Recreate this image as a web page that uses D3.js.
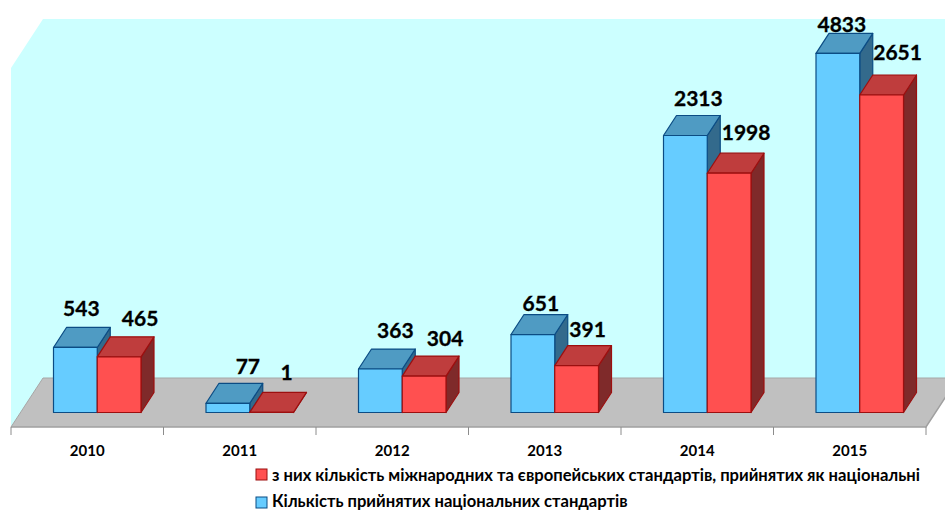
<!DOCTYPE html>
<html>
<head>
<meta charset="utf-8">
<script src="https://cdn.jsdelivr.net/npm/d3@7"></script>
<style>
  html, body { margin: 0; padding: 0; background: #fff; }
  svg { display: block; }
  text { font-family: Lato, "Open Sans", sans-serif; font-weight: 700; fill: #000; }
</style>
</head>
<body>
<svg id="chart" width="945" height="511"></svg>
<script>
// Data
const years = ["2010", "2011", "2012", "2013", "2014", "2015"];
const seriesKeys = ["national", "international"];
const nationalValues = [543, 77, 363, 651, 2313, 4833];
const internationalValues = [465, 1, 304, 391, 1998, 2651];
// The 2015 blue bar in the original is shorter than its label says (about 2998 on the same scale)
const nationalDrawn = [543, 77, 363, 651, 2313, 2998];
const internationalDrawn = [465, 1, 304, 391, 1998, 2651];
const legendLabels = [
  "з них кількість міжнародних та європейських стандартів, прийнятих як національні",
  "Кількість прийнятих національних стандартів",
];

// Label nudges from the top-middle of each bar front, by series then year
const labelNudge = {
  national: [[6, -31], [20, -29], [15, -31], [8, -24], [13, -29], [4, -21]],
  international: [[21, -31], [15, -32], [21, -30], [11, -29], [17, -33], [16, -35]],
};

const svg = d3.select("#chart");

// Scene frame
const left = 11, right = 926, floorFront = 427, floorBack = 378;
const wallDx = 32, wallDy = -49;
const wallTop = 19, wallLeftTop = 68;
const barBase = 412.5;
const depthX = 13, depthY = -20;

const colors = {
  national: { front: "#66ccff", top: "#4f9bc3", side: "#336a8c", stroke: "#0b4c84" },
  international: { front: "#ff5050", top: "#bf3d3d", side: "#7f2a2a", stroke: "#9c0f0f" },
};

// Scales
const x0 = d3.scaleBand().domain(years).range([left, right]);
const x1 = d3.scaleBand().domain(seriesKeys).range([42.5, 130]);
const y = d3.scaleLinear().domain([0, 3000]).range([barBase, 53.2]);

const rows = years.flatMap((year, i) => [
  { year, key: "national", value: nationalValues[i], drawn: nationalDrawn[i], i },
  { year, key: "international", value: internationalValues[i], drawn: internationalDrawn[i], i },
]);

const line = d3.line();

// Wall
svg.append("path")
  .attr("d", line([[left, floorFront], [left, wallLeftTop], [left + wallDx, wallTop], [945, wallTop], [945, floorBack], [left + wallDx, floorBack]]) + "Z")
  .attr("fill", "#ccffff");

// Floor
svg.append("path")
  .attr("d", line([[left, floorFront], [left + wallDx, floorBack], [right + wallDx, floorBack], [right, floorFront]]) + "Z")
  .attr("fill", "#c0c0c0");
svg.append("path")
  .attr("d", line([[left, floorFront], [left + wallDx, floorBack], [right + wallDx, floorBack]]))
  .attr("fill", "none").attr("stroke", "#a6a6a6").attr("stroke-width", 1);
svg.append("path")
  .attr("d", line([[right + wallDx, floorBack], [right, floorFront], [left, floorFront]]))
  .attr("fill", "none").attr("stroke", "#a0a0a0").attr("stroke-width", 1.5);

// Axis: labels from d3, tick marks on the band edges
const axis = svg.append("g")
  .attr("transform", `translate(0,${floorFront})`)
  .call(d3.axisBottom(x0).tickSize(0).tickPadding(18));
axis.select(".domain").remove();
axis.selectAll("text").attr("font-size", 15).attr("font-family", "Lato, sans-serif").attr("font-weight", 700);
axis.selectAll(".edge")
  .data(years.map((d) => x0(d)).concat(right))
  .enter()
  .append("line")
  .attr("class", "edge")
  .attr("x1", (d) => d).attr("x2", (d) => d)
  .attr("y1", 0).attr("y2", 8)
  .attr("stroke", "#8c8c8c");

// Bars
const bars = svg.append("g")
  .selectAll("g")
  .data(rows)
  .enter()
  .append("g")
  .attr("stroke-width", 1.2)
  .attr("stroke-linejoin", "round")
  .each(function (d) {
    const g = d3.select(this);
    const c = colors[d.key];
    const xa = x0(d.year) + x1(d.key);
    const xb = xa + x1.bandwidth();
    const yt = y(d.drawn);
    g.attr("stroke", c.stroke);
    g.append("path").attr("fill", c.side)
      .attr("d", line([[xb, yt], [xb + depthX, yt + depthY], [xb + depthX, barBase + depthY], [xb, barBase]]) + "Z");
    g.append("path").attr("fill", c.top)
      .attr("d", line([[xa, yt], [xa + depthX, yt + depthY], [xb + depthX, yt + depthY], [xb, yt]]) + "Z");
    g.append("rect").attr("fill", c.front)
      .attr("x", xa).attr("y", yt)
      .attr("width", xb - xa).attr("height", barBase - yt);
  });

// Value labels
svg.append("g")
  .selectAll("text")
  .data(rows)
  .enter()
  .append("text")
  .attr("text-anchor", "middle")
  .attr("font-size", 21)
  .attr("stroke", "#000")
  .attr("stroke-width", 0.3)
  .attr("x", (d) => x0(d.year) + x1(d.key) + x1.bandwidth() / 2 + labelNudge[d.key][d.i][0])
  .attr("y", (d) => y(d.drawn) + labelNudge[d.key][d.i][1])
  .text((d) => d.value);

// Legend
const legend = svg.append("g")
  .selectAll("g")
  .data(legendLabels)
  .enter()
  .append("g")
  .attr("transform", (d, i) => `translate(256,${469 + i * 28})`);

legend.append("rect")
  .attr("width", 11).attr("height", 11)
  .attr("fill", (d, i) => colors[seriesKeys[1 - i]].front)
  .attr("stroke", (d, i) => colors[seriesKeys[1 - i]].stroke);

// Second row sits a little higher so its descenders stay inside the window
legend.append("text")
  .attr("x", 16).attr("y", (d, i) => (i ? 10 : 12))
  .attr("font-size", 16.6)
  .text((d) => d);
</script>
</body>
</html>
